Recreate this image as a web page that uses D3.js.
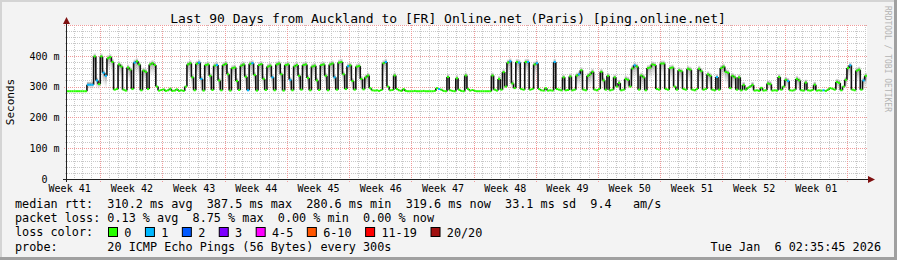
<!DOCTYPE html>
<html>
<head>
<meta charset="utf-8">
<script src="https://cdn.jsdelivr.net/npm/d3@7"></script>
<style>
	body { margin:0; background:#f3f3f3; }
	svg text { font-family: "DejaVu Sans Mono", monospace; white-space: pre; }
</style>
</head>
<body>
<div id="chart"></div>
<script>
// median rtt in ms, one value per 6 hours starting Oct 9 2025 00:00
const median = [
	285,285,285,285, 285,285,285,285, 285,285,306,306, 306,398,320,308,
	398,345,335,392, 396,380,290,292, 372,365,290,287, 362,355,292,378,
	382,372,288,352, 348,292,372,376, 370,300,287,289, 291,286,288,293,
	286,287,291,286, 288,286,300,372, 376,330,288,374, 378,325,287,370,
	372,335,289,368, 370,320,288,370, 374,340,287,360, 362,318,289,368,
	372,332,288,374, 376,338,287,370, 373,325,289,365, 368,330,288,372,
	375,340,287,370, 372,322,288,366, 370,335,290,370, 372,328,288,365,
	368,320,289,370, 372,335,288,372, 375,330,290,378, 380,340,292,366,
	369,318,290,365, 367,325,291,330, 336,295,288,287, 288,286,289,376,
	380,300,288,289, 336,292,288,286, 292,286,285,285, 285,286,285,285,
	285,286,285,285, 285,285,286,295, 292,290,286,285, 331,288,286,285,
	327,290,286,285, 336,292,287,289, 286,285,285,285, 285,285,285,285,
	336,290,287,325, 290,347,300,378, 382,310,295,380, 378,292,290,380,
	380,290,292,372, 376,292,288,287, 295,287,288,287, 380,292,290,288,
	330,288,289,333, 288,290,336,340, 353,290,288,335, 340,348,290,288,
	292,348,320,290, 335,288,290,330, 300,312,288,290, 325,322,300,359,
	369,365,290,336, 330,288,360,362, 372,370,292,290, 375,375,292,290,
	360,362,300,290, 353,350,292,290, 358,355,290,288, 292,358,350,290,
	292,340,335,290, 288,331,290,360, 365,348,345,295, 335,330,290,330,
	288,305,290,296, 300,305,287,288, 286,296,287,288, 310,308,287,288,
	287,331,290,300, 322,318,288,287, 290,325,320,288, 287,313,288,287,
	289,306,287,288, 287,288,286,290, 295,293,290,315, 312,288,300,322,
	360,369,290,288, 352,355,290,320, 335
];

// [slot, lost pings of 20]
const lossSlots = [
	[10,1],[11,1],[12,1],[14,1],[17,1],[18,1],[31,1],[60,1],[61,1],[68,1],
	[82,1],[84,1],[93,1],[101,1],[121,1],[127,1],[144,1],[168,1],[200,1],[204,1],
	[208,1],[212,1],[220,1],[231,1],[256,1],[293,1],[325,1],[341,1],[353,1],[359,1]
];

const lossLabels = ['0', '1', '2', '3', '4-5', '6-10', '11-19', '20/20'];
const lossColors = ['#26ff00', '#00b8ff', '#0059ff', '#7e00ff', '#ff00ff', '#ff5500', '#ff0000', '#a01010'];
const yTicks = [0, 100, 200, 300, 400];
const legendRows = [
	'median rtt:  310.2 ms avg  387.5 ms max  280.6 ms min  319.6 ms now  33.1 ms sd  9.4   am/s',
	'packet loss: 0.13 % avg  8.75 % max  0.00 % min  0.00 % now',
	'loss color:',
	'probe:       20 ICMP Echo Pings (56 Bytes) every 300s'
];
const title = 'Last 90 Days from Auckland to [FR] Online.net (Paris) [ping.online.net]';
const stamp = 'Tue Jan  6 02:35:45 2026';

const width = 897, height = 260;
const plot = {left:67, right:867, top:25, bottom:179};

const firstSlot = new Date(Date.UTC(2025, 9, 9)),
	start = new Date(Date.UTC(2025, 9, 9, 6, 10)),
	end = d3.utcDay.offset(start, 90);

const bucket = l => l == 0 ? 0 : l <= 3 ? l : l <= 5 ? 4 : l <= 10 ? 5 : l < 20 ? 6 : 7;
const lossOf = new Map(lossSlots);

const slots = median.map((v, i) => ({
	t0: d3.utcHour.offset(firstSlot, 6 * i),
	t1: d3.utcHour.offset(firstSlot, 6 * (i + 1)),
	v: v,
	loss: lossOf.get(i) || 0
}));

const x = d3.scaleUtc()
	.domain([start, end])
	.range([plot.left, plot.right]);

const y = d3.scaleLinear()
	.domain([0, 500])
	.range([plot.bottom, plot.top]);

const crisp = v => Math.round(v) + 0.5;

const svg = d3.select('#chart')
	.append('svg')
	.attr('width', width)
	.attr('height', height);

// frame
svg.append('rect').attr('width', width).attr('height', height).attr('fill', '#f3f3f3');
svg.append('rect').attr('width', width).attr('height', 2).attr('fill', '#d4d4d4');
svg.append('rect').attr('width', 2).attr('height', height).attr('fill', '#d4d4d4');
svg.append('rect').attr('y', height - 3).attr('width', width).attr('height', 3).attr('fill', '#a0a0a0');
svg.append('rect').attr('x', width - 3).attr('width', 3).attr('height', height).attr('fill', '#a0a0a0');

svg.append('rect')
	.attr('x', plot.left)
	.attr('y', plot.top)
	.attr('width', plot.right - plot.left)
	.attr('height', plot.bottom - plot.top)
	.attr('fill', '#fff');

// grid
const grid = svg.append('g');

grid.selectAll('.hmin')
	.data(d3.range(20, 500, 20).filter(d => d % 100 != 0))
	.enter()
	.append('line')
		.attr('x1', plot.left - 2).attr('x2', plot.right)
		.attr('y1', d => crisp(y(d))).attr('y2', d => crisp(y(d)))
		.attr('stroke', '#c8c8c8')
		.attr('stroke-dasharray', '1,1');

grid.selectAll('.vmin')
	.data(d3.utcDay.range(start, end))
	.enter()
	.append('line')
		.attr('x1', d => crisp(x(d))).attr('x2', d => crisp(x(d)))
		.attr('y1', plot.top).attr('y2', plot.bottom + 2)
		.attr('stroke', '#c8c8c8')
		.attr('stroke-dasharray', '1,1');

grid.selectAll('.hmaj')
	.data(yTicks.concat([500]).filter(d => d > 0))
	.enter()
	.append('line')
		.attr('x1', plot.left - 3).attr('x2', plot.right)
		.attr('y1', d => crisp(y(d))).attr('y2', d => crisp(y(d)))
		.attr('stroke', '#f09a9a')
		.attr('stroke-dasharray', '1,1');

grid.selectAll('.vmaj')
	.data(d3.utcMonday.range(start, end))
	.enter()
	.append('line')
		.attr('x1', d => crisp(x(d))).attr('x2', d => crisp(x(d)))
		.attr('y1', plot.top).attr('y2', plot.bottom + 3)
		.attr('stroke', '#f09a9a')
		.attr('stroke-dasharray', '1,1');

// smoke
const defs = svg.append('defs');
defs.append('clipPath').attr('id', 'clip')
	.append('rect')
		.attr('x', plot.left).attr('y', plot.top)
		.attr('width', plot.right - plot.left).attr('height', plot.bottom - plot.top);

const grad = defs.append('linearGradient')
	.attr('id', 'smoke')
	.attr('x1', 0).attr('y1', 0).attr('x2', 0).attr('y2', 1);
grad.append('stop').attr('offset', 0).attr('stop-color', '#d4d4d4').attr('stop-opacity', 0.6);
grad.append('stop').attr('offset', 0.18).attr('stop-color', '#808080').attr('stop-opacity', 0.75);
grad.append('stop').attr('offset', 0.6).attr('stop-color', '#b8b8b8').attr('stop-opacity', 0.45);
grad.append('stop').attr('offset', 1).attr('stop-color', '#eeeeee').attr('stop-opacity', 0);

const data = svg.append('g').attr('clip-path', 'url(#clip)');

data.selectAll('.smoke')
	.data(slots.filter(d => d.v > 300))
	.enter()
	.append('rect')
		.attr('x', d => x(d.t0))
		.attr('width', d => x(d.t1) - x(d.t0))
		.attr('y', d => y(d.v + 10))
		.attr('height', d => y(Math.max(288, d.v - 45)) - y(d.v + 10))
		.attr('fill', 'url(#smoke)');

// transitions of the median
var steps = '';
slots.forEach((d, i) => {
	if (i == 0) return;
	steps += `M${x(d.t0)},${y(slots[i - 1].v)}V${y(d.v)}`;
});
data.append('path')
	.attr('d', steps)
	.attr('stroke', '#111')
	.attr('stroke-width', 1.6)
	.attr('fill', 'none');

// median coloured by loss
data.selectAll('.med')
	.data(slots)
	.enter()
	.append('line')
		.attr('x1', d => x(d.t0))
		.attr('x2', d => x(d.t1))
		.attr('y1', d => y(d.v))
		.attr('y2', d => y(d.v))
		.attr('stroke', d => lossColors[bucket(d.loss)])
		.attr('stroke-width', 2);

// axes
const xAxis = d3.axisBottom(x)
	.tickValues(d3.utcMonday.range(start, end).map(d => d3.utcHour.offset(d, -84)))
	.tickFormat(d3.utcFormat('Week %V'))
	.tickSize(0)
	.tickPadding(5.5);

svg.append('g')
	.attr('transform', `translate(0,${plot.bottom})`)
	.call(xAxis)
	.call(g => g.select('.domain').remove())
	.selectAll('text')
		.attr('font-family', '"DejaVu Sans Mono", monospace')
		.attr('font-size', 10)
		.attr('fill', '#000');

const yAxis = d3.axisLeft(y)
	.tickValues(yTicks)
	.tickFormat(d => d ? d + ' m' : '0')
	.tickSize(0)
	.tickPadding(7.5);

svg.append('g')
	.attr('transform', `translate(${plot.left},0)`)
	.call(yAxis)
	.call(g => g.select('.domain').remove())
	.selectAll('text')
		.attr('font-family', '"DejaVu Sans Mono", monospace')
		.attr('font-size', 10)
		.attr('fill', '#000')
		.attr('dx', d => d ? 0 : -12);

// axis lines and arrows
svg.append('line')
	.attr('x1', plot.left - 4).attr('x2', plot.right + 3)
	.attr('y1', plot.bottom + 0.5).attr('y2', plot.bottom + 0.5)
	.attr('stroke', '#222');
svg.append('line')
	.attr('x1', plot.left - 0.5).attr('x2', plot.left - 0.5)
	.attr('y1', plot.bottom + 3).attr('y2', plot.top - 1)
	.attr('stroke', '#222');
svg.append('path')
	.attr('d', `M${plot.right + 1},${plot.bottom - 3}L${plot.right + 8},${plot.bottom + 0.5}L${plot.right + 1},${plot.bottom + 4}Z`)
	.attr('fill', '#7f1010');
svg.append('path')
	.attr('d', `M${plot.left - 4},${plot.top - 1}L${plot.left - 0.5},${plot.top - 8}L${plot.left + 3},${plot.top - 1}Z`)
	.attr('fill', '#7f1010');

// texts
svg.append('text')
	.attr('x', 448)
	.attr('y', 22.5)
	.attr('text-anchor', 'middle')
	.attr('font-size', 13)
	.text(title);

svg.append('text')
	.attr('transform', 'translate(14,102) rotate(-90)')
	.attr('text-anchor', 'middle')
	.attr('font-size', 11)
	.text('Seconds');

svg.append('text')
	.attr('transform', 'translate(885,59) rotate(90)')
	.attr('text-anchor', 'middle')
	.attr('font-size', 8)
	.attr('fill', '#b4b4b4')
	.text('RRDTOOL / TOBI OETIKER');

svg.selectAll('.legend')
	.data(legendRows)
	.enter()
	.append('text')
		.attr('x', 15)
		.attr('y', (d, i) => 208 + i * 14.2)
		.attr('font-size', 11.8)
		.text(d => d);

var cursor = 108;
lossLabels.forEach((l, i) => {
	svg.append('rect')
		.attr('x', cursor + 0.5)
		.attr('y', 227.5)
		.attr('width', 9)
		.attr('height', 9)
		.attr('fill', lossColors[i])
		.attr('stroke', '#000');
	svg.append('text')
		.attr('x', cursor + 16.3)
		.attr('y', 236.6)
		.attr('font-size', 11.8)
		.text(l);
	cursor += 16.3 + l.length * 7.12 + 13.5;
});

svg.append('text')
	.attr('x', 881)
	.attr('y', 250.8)
	.attr('text-anchor', 'end')
	.attr('font-size', 11.8)
	.text(stamp);
</script>
</body>
</html>
